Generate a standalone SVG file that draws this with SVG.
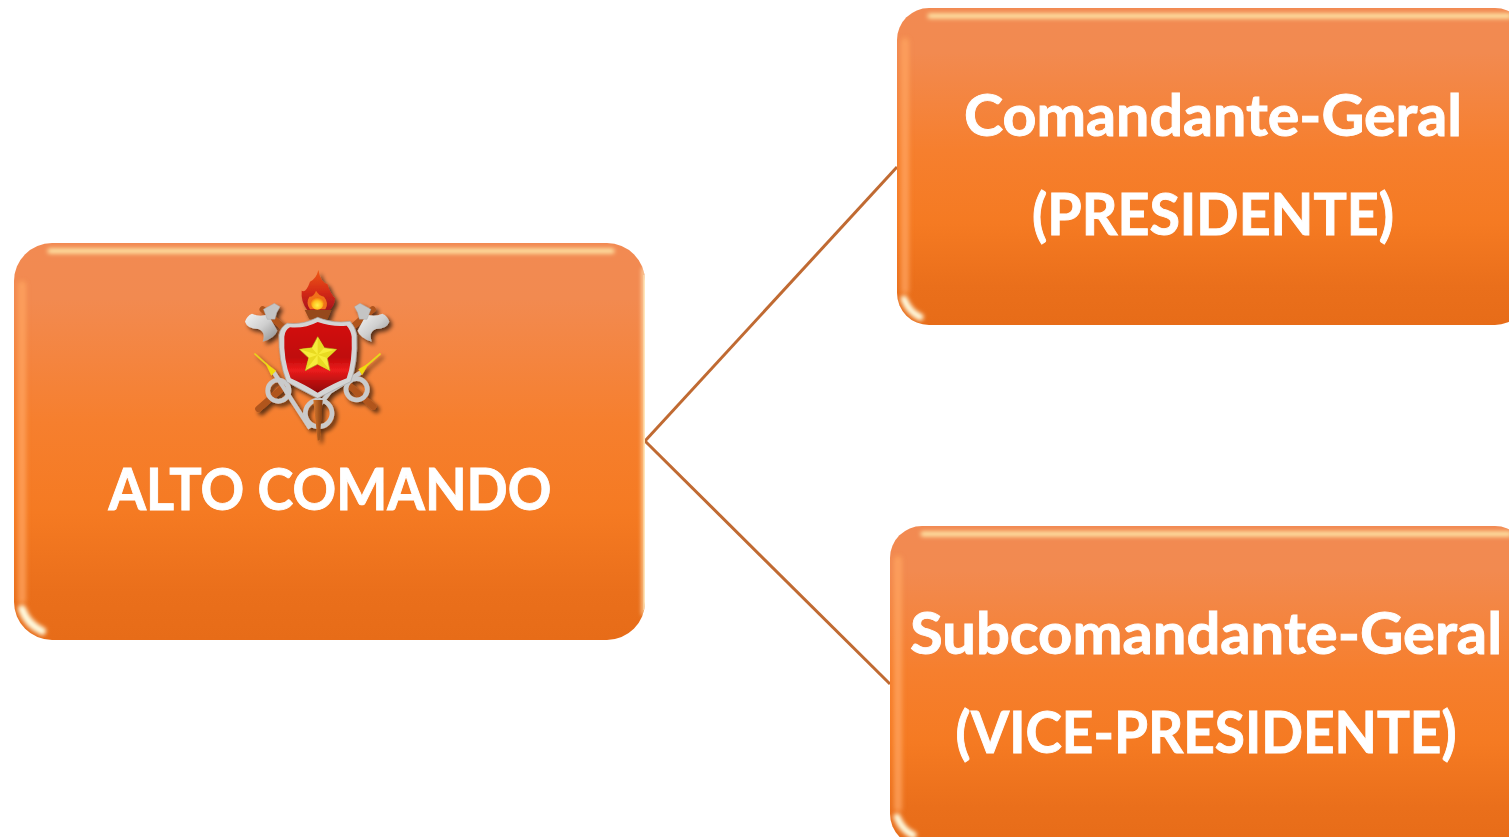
<svg xmlns="http://www.w3.org/2000/svg" width="1509" height="837" viewBox="0 0 1509 837">
<style>
.label{font-family:"Lato","Carlito","Liberation Sans",sans-serif;font-weight:700;fill:#fff;stroke:#fff;stroke-width:.9;text-anchor:middle;font-size:57px}
.link{fill:none;stroke:#C06A32;stroke-width:3}
.top{fill:none;stroke:#FFE7A8;stroke-linecap:round}
.side{fill:none;stroke:#FFA560;stroke-linecap:round}
.crescent{fill:none;stroke:#FFFCE0;stroke-linecap:round}
.edge{fill:none;stroke:#FFEBC0}
.steel{fill:url(#steel)}
.collar{fill:#C4C4C4;stroke:#9A9A9A;stroke-width:1}
.haft{fill:none;stroke:#B0551F;stroke-width:19;stroke-linecap:round}
.ring{fill:none;stroke:#CACACA}
</style>
<defs>
<linearGradient id="box" x1="0" y1="0" x2="0" y2="1">
<stop offset="0" stop-color="#F28A52"/><stop offset=".14" stop-color="#F28A50"/><stop offset=".45" stop-color="#F67F2E"/><stop offset=".68" stop-color="#F57A22"/><stop offset=".88" stop-color="#EA6F1B"/><stop offset="1" stop-color="#E76C18"/>
</linearGradient>
<filter id="b2" filterUnits="userSpaceOnUse" x="0" y="0" width="1509" height="837"><feGaussianBlur stdDeviation="2"/></filter>
<filter id="b3" filterUnits="userSpaceOnUse" x="0" y="0" width="1509" height="837"><feGaussianBlur stdDeviation="2.500"/></filter>
<filter id="sh" x="-20%" y="-20%" width="150%" height="150%"><feGaussianBlur in="SourceAlpha" stdDeviation="6"/><feOffset dx="8" dy="9"/><feComponentTransfer><feFuncA type="linear" slope=".65"/></feComponentTransfer><feMerge><feMergeNode/><feMergeNode in="SourceGraphic"/></feMerge></filter>
<linearGradient id="steel" x1="0" y1="0" x2="1" y2="1"><stop offset="0" stop-color="#F4F4F4"/><stop offset=".5" stop-color="#CFCFCF"/><stop offset="1" stop-color="#8A8A8A"/></linearGradient>
<linearGradient id="red" x1="0" y1="0" x2="0" y2="1"><stop offset="0" stop-color="#D40A0A"/><stop offset=".5" stop-color="#C00808"/><stop offset=".68" stop-color="#EC1C1C"/><stop offset="1" stop-color="#8E0404"/></linearGradient>
<linearGradient id="wood" x1="0" y1="0" x2="1" y2="0"><stop offset="0" stop-color="#D87A30"/><stop offset="1" stop-color="#7E3B10"/></linearGradient>
<linearGradient id="flame" x1="0" y1="0" x2="0" y2="1"><stop offset="0" stop-color="#EE5A14"/><stop offset=".55" stop-color="#D42A18"/><stop offset="1" stop-color="#A8141C"/></linearGradient>
<radialGradient id="core" cx=".5" cy=".65" r=".6"><stop offset="0" stop-color="#FFF04A"/><stop offset=".6" stop-color="#FFC020"/><stop offset="1" stop-color="#F07010"/></radialGradient>
</defs>

<g id="connectors">
<path class="link" d="M645 441L897 167"/>
<path class="link" d="M645 441L890 684"/>
</g>

<g id="node-alto-comando">
<rect x="14" y="243" width="631" height="397" rx="38" fill="url(#box)"/>
<clipPath id="c1"><rect x="14" y="243" width="631" height="397" rx="38"/></clipPath>
<g clip-path="url(#c1)">
<path class="top" d="M50 251H612" stroke-width="5" filter="url(#b2)"/>
<path class="side" d="M22 285V600" stroke-width="8" filter="url(#b3)" opacity=".8"/>
<path class="edge" d="M643.500 268V615" stroke-width="3" filter="url(#b2)"/>
<path class="edge" d="M644.200 275V610" stroke-width="1.400"/>
<path class="crescent" d="M22 609Q27 624 42 631" stroke-width="8" filter="url(#b2)"/>
</g>
<g transform="translate(230 260) scale(.33333)">
<g filter="url(#sh)">
<path class="haft" d="M98 148L430 440"/>
<path class="haft" d="M428 148L85 447"/>
<path class="steel" d="M66 161Q90 172 114 163L142 212Q135 234 98 245Q108 215 85 207Q52 207 45 185Q50 168 66 161Z"/>
<path class="steel" d="M457 161Q433 172 409 163L383 212Q390 234 425 245Q415 215 438 207Q471 207 478 185Q473 168 457 161Z"/>
<path class="collar" d="M100 148L133 130L150 140L140 158L135 178L112 178Z"/>
<path class="collar" d="M423 148L390 130L373 140L383 158L388 178L411 178Z"/>
<circle class="ring" cx="145" cy="392" r="32" stroke-width="14"/>
<circle class="ring" cx="380" cy="388" r="32" stroke-width="14"/>
<path d="M130 335L240 505" stroke="#CACACA" stroke-width="13" fill="none"/>
<path d="M392 338L300 395L265 440" stroke="#CACACA" stroke-width="13" fill="none"/>
<path d="M75 282L112 315" stroke="#E6D81A" stroke-width="5" fill="none" stroke-linecap="round"/>
<path d="M450 282L412 315" stroke="#E6D81A" stroke-width="5" fill="none" stroke-linecap="round"/>
<path d="M106 308L138 332L124 347Z" fill="#F0DC10"/>
<path d="M418 308L386 328L396 345Z" fill="#F0DC10"/>
<circle class="ring" cx="266" cy="460" r="40" stroke-width="14"/>
<path d="M250 420H278L269 540L263 542Z" fill="url(#wood)"/>
<path d="M224 150H304L292 178H238Z" fill="#96491A"/>
<path d="M265 30Q272 68 292 72Q300 100 315 115Q312 145 296 150H232Q212 125 215 92Q228 100 240 65Q260 55 265 30Z" fill="url(#flame)"/>
<path d="M258 92Q268 108 282 110Q298 130 286 148H240Q226 130 238 110Q252 110 258 92Z" fill="#F0701A"/>
<ellipse cx="262" cy="130" rx="19" ry="19" fill="url(#core)"/>
<path d="M263 172Q310 192 360 184Q376 200 380 225Q384 310 362 365Q320 385 263 415Q205 385 170 365Q145 300 147 225Q152 200 172 190Q220 195 263 172Z" fill="#D4D4D4" stroke="#A6A6A6" stroke-width="2"/>
<path d="M263 186Q310 202 350 197Q362 210 365 230Q368 305 350 355Q310 370 263 398Q220 372 182 355Q160 300 163 230Q165 210 180 202Q225 206 263 186Z" fill="url(#red)"/>
<path d="M263 230L283 263L320 268L292 294L300 332L263 313L226 332L236 294L208 268L245 263Z" fill="#F7EC3A" stroke="#A8A020" stroke-width="2"/>
<path d="M263 230L283 263L263 284ZM320 268L292 294L263 284ZM300 332L263 313L263 284ZM226 332L236 294L263 284ZM208 268L245 263L263 284Z" fill="#E8DA20"/>
</g>
</g>
<text class="label" x="330" y="510" textLength="443" lengthAdjust="spacingAndGlyphs">ALTO COMANDO</text>
</g>

<g id="node-comandante">
<rect x="897" y="8" width="630" height="317" rx="32" fill="url(#box)"/>
<clipPath id="c2"><rect x="897" y="8" width="630" height="317" rx="32"/></clipPath>
<g clip-path="url(#c2)">
<path class="top" d="M930 16H1509" stroke-width="5" filter="url(#b2)"/>
<path class="side" d="M905 42V290" stroke-width="8" filter="url(#b3)" opacity=".8"/>
<path class="crescent" d="M904 299Q909 312 920 317" stroke-width="7" filter="url(#b2)"/>
</g>
<text class="label" x="1213" y="136" textLength="498" lengthAdjust="spacingAndGlyphs">Comandante-Geral</text>
<text class="label" x="1213" y="235" textLength="362" lengthAdjust="spacingAndGlyphs">(PRESIDENTE)</text>
</g>

<g id="node-subcomandante">
<rect x="890" y="526" width="637" height="320" rx="32" fill="url(#box)"/>
<clipPath id="c3"><rect x="890" y="526" width="637" height="320" rx="32"/></clipPath>
<g clip-path="url(#c3)">
<path class="top" d="M923 534H1509" stroke-width="5" filter="url(#b2)"/>
<path class="side" d="M898 560V808" stroke-width="8" filter="url(#b3)" opacity=".8"/>
<path class="crescent" d="M897 817Q902 830 913 835" stroke-width="7" filter="url(#b2)"/>
</g>
<text class="label" x="1206" y="654" textLength="592" lengthAdjust="spacingAndGlyphs">Subcomandante-Geral</text>
<text class="label" x="1206" y="753" textLength="501" lengthAdjust="spacingAndGlyphs">(VICE-PRESIDENTE)</text>
</g>
</svg>
